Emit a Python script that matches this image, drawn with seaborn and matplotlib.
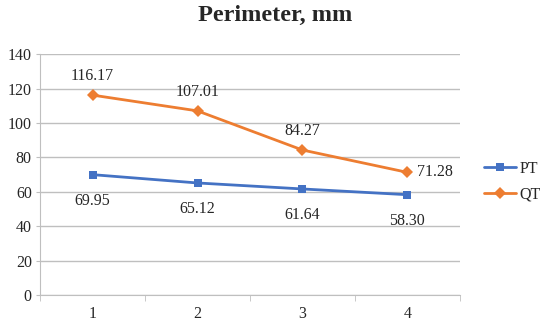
import matplotlib.pyplot as plt
import pandas as pd
import seaborn as sns

# data
categories = [1, 2, 3, 4]
pt = [69.95, 65.12, 61.64, 58.30]
qt = [116.17, 107.01, 84.27, 71.28]

df = pd.DataFrame({'x': categories * 2,
                   'value': pt + qt,
                   'series': ['PT'] * 4 + ['QT'] * 4})

sns.set_style('white')
plt.rcParams['font.family'] = ['Liberation Serif', 'DejaVu Serif']

fig = plt.figure(figsize=(5.5, 3.3), dpi=100)
ax = fig.add_axes([0.073, 0.106, 0.763, 0.73])

colors = {'PT': '#4472C4', 'QT': '#ED7D31'}
sns.lineplot(data=df, x='x', y='value', hue='series', style='series',
             markers={'PT': 's', 'QT': 'D'}, dashes=False, palette=colors,
             linewidth=2, markersize=6, markeredgewidth=0, ax=ax)

ax.set_xlim(0.5, 4.5)
ax.set_ylim(0, 140)
ax.set_yticks(range(0, 141, 20))
ax.set_xticks(categories)
ax.set_xticks([0.5, 1.5, 2.5, 3.5, 4.5], minor=True)
ax.tick_params(axis='x', which='major', length=0, labelsize=11.5, pad=8)
ax.tick_params(axis='x', which='minor', length=4, color='#BFBFBF', direction='out', bottom=True)
ax.tick_params(axis='y', length=3, color='#BFBFBF', direction='out', left=True,
               labelsize=11.5, pad=3)
ax.grid(axis='y', color='#BFBFBF', linewidth=1)
ax.set_axisbelow(True)
for s in ['top', 'right']:
    ax.spines[s].set_visible(False)
ax.spines['bottom'].set_color('#BFBFBF')
ax.spines['left'].set_color('#BFBFBF')
ax.set_xlabel('')
ax.set_ylabel('')

for x, v in zip(categories, pt):
    ax.annotate(f'{v:.2f}', (x, v), xytext=(0, -13), textcoords='offset points',
                ha='center', va='top', fontsize=11.5)
for x, v in zip(categories[:3], qt[:3]):
    ax.annotate(f'{v:.2f}', (x, v), xytext=(0, 8), textcoords='offset points',
                ha='center', va='bottom', fontsize=11.5)
ax.annotate(f'{qt[3]:.2f}', (categories[3], qt[3]), xytext=(7, 0),
            textcoords='offset points', ha='left', va='center', fontsize=11.5)

fig.suptitle('Perimeter, mm', fontsize=17.5, fontweight='bold', y=0.985)

leg = ax.legend(loc='center left', bbox_to_anchor=(1.057, 0.47), frameon=False,
                fontsize=11.5, handlelength=2.0, handletextpad=0.25,
                labelspacing=0.6, borderaxespad=0, borderpad=0)

fig.savefig('out.png', dpi=100)
